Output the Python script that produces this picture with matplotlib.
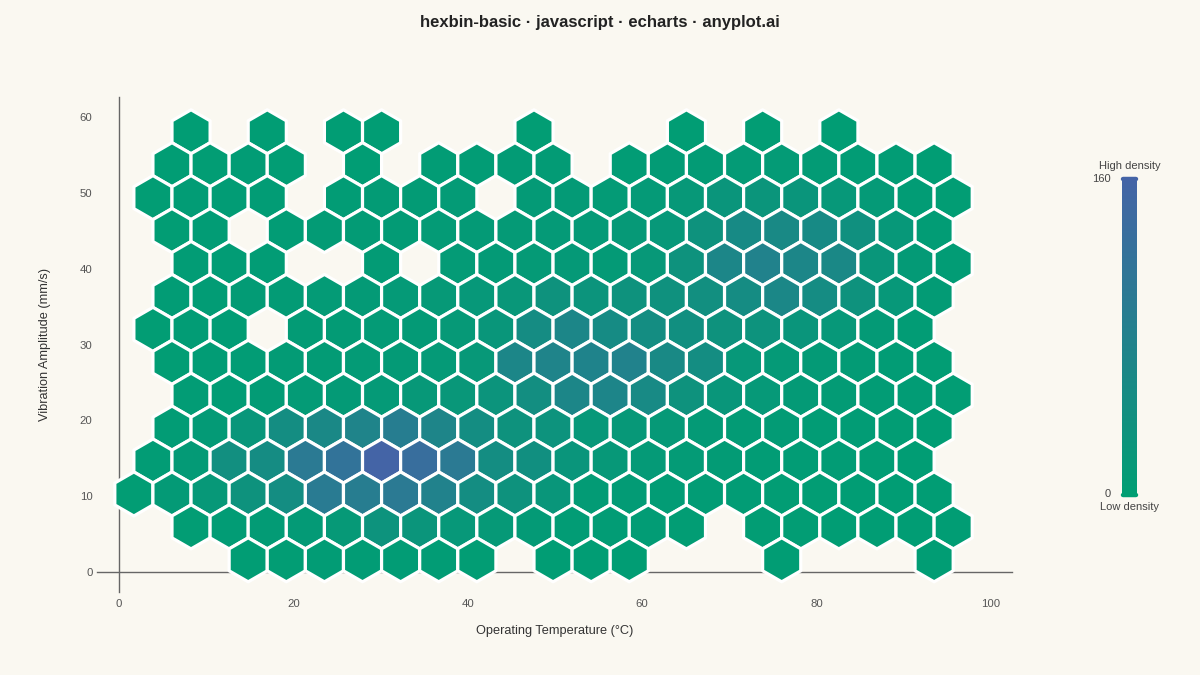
import numpy as np
import matplotlib
matplotlib.use("Agg")
import matplotlib.pyplot as plt
from matplotlib.colors import LinearSegmentedColormap, Normalize
from matplotlib.cm import ScalarMappable
from matplotlib.lines import Line2D

plt.rcParams['font.family'] = ['Liberation Sans', 'DejaVu Sans']

# hexbin counts, one list per hex row (top row first), 0 = empty bin
# slot k sits at half-column 2k (odd rows) or 2k+1 (even rows)
row00 = [0, 3, 0, 2, 0, 3, 2, 0, 0, 0, 4, 0, 0, 0, 3, 0, 4, 0, 3, 0, 0, 0]
row01 = [0, 3, 4, 5, 4, 0, 3, 0, 5, 6, 7, 8, 0, 6, 7, 8, 9, 9, 8, 6, 5, 3]
row02 = [4, 5, 6, 5, 0, 6, 7, 8, 9, 0, 10, 10, 9, 12, 16, 24, 26, 24, 18, 12, 6, 4]
row03 = [0, 4, 5, 0, 6, 7, 7, 8, 9, 10, 11, 12, 12, 14, 18, 33, 55, 58, 55, 38, 18, 6]
row04 = [0, 5, 6, 5, 0, 0, 7, 0, 9, 10, 11, 13, 10, 16, 33, 65, 78, 65, 60, 22, 10, 5]
row05 = [0, 5, 6, 7, 8, 9, 10, 12, 14, 18, 20, 33, 28, 33, 35, 42, 50, 64, 50, 33, 18, 7]
row06 = [4, 5, 6, 0, 7, 8, 9, 10, 14, 22, 50, 66, 52, 48, 40, 33, 30, 24, 18, 10, 6, 0]
row07 = [0, 4, 5, 6, 7, 8, 9, 10, 12, 16, 66, 72, 74, 78, 58, 48, 18, 12, 10, 7, 5, 4]
row08 = [0, 5, 6, 8, 9, 10, 12, 16, 20, 28, 45, 66, 68, 56, 33, 22, 15, 10, 7, 6, 5, 4]
row09 = [0, 6, 10, 22, 48, 60, 72, 90, 70, 48, 33, 30, 18, 16, 14, 10, 8, 7, 6, 5, 4, 3]
row10 = [5, 10, 42, 50, 100, 118, 160, 132, 100, 48, 40, 24, 16, 12, 9, 7, 6, 5, 5, 4, 3, 0]
row11 = [4, 10, 16, 33, 48, 96, 92, 100, 78, 48, 33, 22, 8, 7, 6, 5, 5, 4, 4, 3, 3, 3]
row12 = [0, 4, 5, 7, 10, 14, 30, 26, 18, 14, 10, 6, 5, 5, 4, 0, 4, 4, 3, 3, 3, 2]
row13 = [0, 0, 0, 3, 4, 5, 6, 6, 5, 4, 0, 3, 3, 2, 0, 0, 0, 2, 0, 0, 0, 2]
hex_rows = [row00, row01, row02, row03, row04, row05, row06,
            row07, row08, row09, row10, row11, row12, row13]

# hex grid geometry (data units)
X0, DX = 1.71, 2.185       # first half-column centre, half-column step
Y_TOP, DY = 58.08, 4.344   # top row centre, row step

x_ticks = [0, 20, 40, 60, 80, 100]
y_ticks = [0, 10, 20, 30, 40, 50, 60]
vmax = 160

bg = '#FAF8F1'
low_col = '#009E73'
high_col = '#4464A6'
cmap = LinearSegmentedColormap.from_list('density', [low_col, high_col])
norm = Normalize(0, vmax)

hx, hy, hc = [], [], []
for r, row in enumerate(hex_rows):
    for k, n in enumerate(row):
        if n > 0:
            c = 2 * k + (1 if r % 2 == 0 else 0)
            hx.append(X0 + c * DX)
            hy.append(Y_TOP - r * DY)
            hc.append(n)

fig = plt.figure(figsize=(12, 6.75), dpi=100, facecolor=bg)
ax = fig.add_axes([97 / 1200, 83 / 675, 915 / 1200, 495 / 675])
ax.set_facecolor(bg)
ax.set_xlim(-2.52, 102.41)
ax.set_ylim(-2.64, 62.67)

# marker size so the hexagons tile the grid
px_per_unit = 915 / (102.41 + 2.52)
apothem_px = DX * px_per_unit
radius_pt = apothem_px * 2 / np.sqrt(3) * 72 / fig.dpi
ax.scatter(hx, hy, c=hc, cmap=cmap, norm=norm, marker='h',
           s=(2 * radius_pt) ** 2, edgecolors='white', linewidths=2.3, zorder=3)

for side in ['top', 'right']:
    ax.spines[side].set_visible(False)
ax.spines['left'].set_position(('data', 0))
ax.spines['bottom'].set_position(('data', 0))
for side in ['left', 'bottom']:
    ax.spines[side].set_color('#666666')
    ax.spines[side].set_linewidth(1.0)

ax.set_xticks(x_ticks)
ax.set_yticks(y_ticks)
ax.tick_params(axis='x', length=0, pad=19.5, labelsize=8.2, labelcolor='#555555')
ax.tick_params(axis='y', length=0, pad=19, labelsize=8.2, labelcolor='#555555')

ax.set_xlabel('Operating Temperature (°C)', fontsize=9.2, color='#333333')
ax.xaxis.set_label_coords(0.5, (592 - 631) / 495)
ax.xaxis.label.set_verticalalignment('center')
ax.set_ylabel('Vibration Amplitude (mm/s)', fontsize=9.2, color='#333333')
ax.yaxis.set_label_coords((45 - 97) / 915, 0.5)
ax.yaxis.label.set_verticalalignment('center')

fig.text(0.5, 1 - 22 / 675, 'hexbin-basic · javascript · echarts · anyplot.ai',
         ha='center', va='center', fontsize=12, fontweight='bold', color='#222222')

# visual map (colour bar)
cax = fig.add_axes([1122 / 1200, 180 / 675, 15 / 1200, 316 / 675])
cb = fig.colorbar(ScalarMappable(norm=norm, cmap=cmap), cax=cax)
cb.outline.set_visible(False)
cax.set_yticks([])
for yy, col in [(1 - 179 / 675, high_col), (1 - 495 / 675, low_col)]:
    fig.add_artist(Line2D([1123 / 1200, 1136 / 1200], [yy, yy], lw=3.2, color=col,
                          solid_capstyle='round', transform=fig.transFigure))

fig.text(1130 / 1200, 1 - 166 / 675, 'High density', ha='center', va='center',
         fontsize=8, color='#444444')
fig.text(1111 / 1200, 1 - 179 / 675, str(vmax), ha='right', va='center',
         fontsize=8, color='#444444')
fig.text(1111 / 1200, 1 - 494 / 675, '0', ha='right', va='center',
         fontsize=8, color='#444444')
fig.text(1130 / 1200, 1 - 507 / 675, 'Low density', ha='center', va='center',
         fontsize=8, color='#444444')

fig.savefig('out.png', dpi=100, facecolor=bg)
